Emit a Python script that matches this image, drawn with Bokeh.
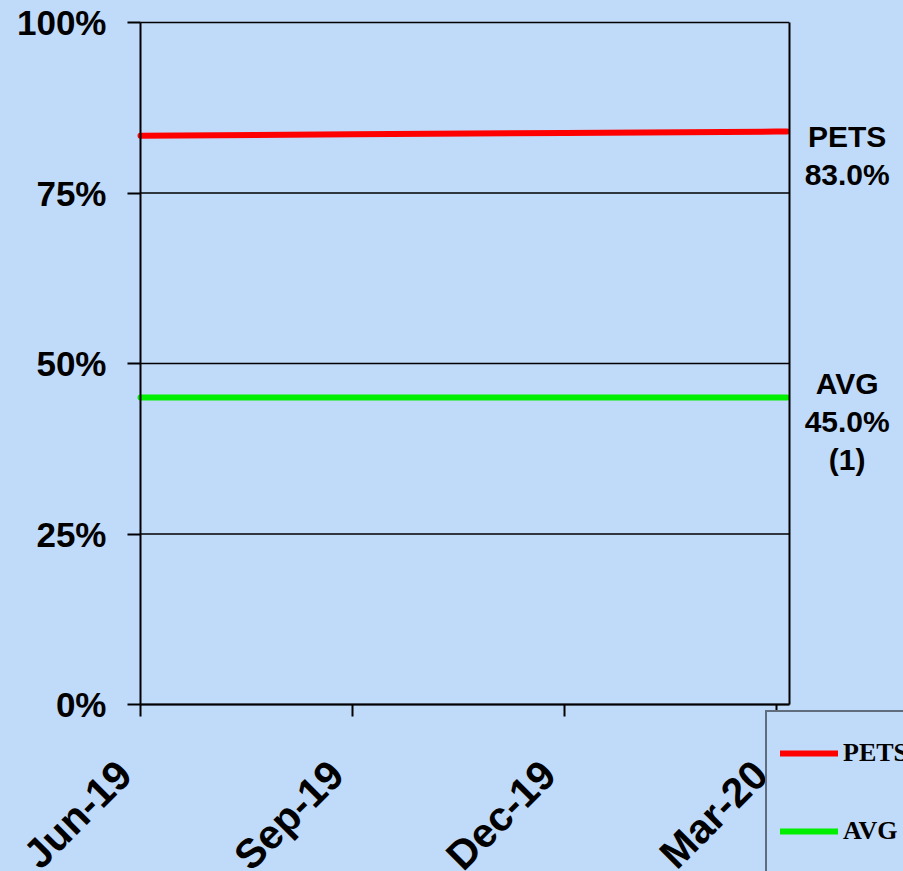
import math
from bokeh.plotting import figure
from bokeh.models import Range1d, FixedTicker, Legend, LegendItem, Label, LinearAxis
from bokeh.embed import file_html
from bokeh.resources import INLINE

# ---- data ----
tick_months = [0, 3, 6, 9]
tick_labels = ["Jun-19", "Sep-19", "Dec-19", "Mar-20"]
x_months = [0, 3, 6, 9, 9.15]
pets = [83.4, 83.6, 83.8, 84.0, 84.0]
avg = [45.0, 45.0, 45.0, 45.0, 45.0]
y_ticks = [0, 25, 50, 75, 100]
y_tick_labels = ["0%", "25%", "50%", "75%", "100%"]
pets_label = "PETS\n83.0%"
avg_label = "AVG\n45.0%\n(1)"
label_month = 10

# ---- layout constants ----
BG = "#C0DAF9"
X_EDGE = 9.18            # right edge of the plotting box (months)
W, H = 903, 871
X0_PX, Y100_PX = 140, 22  # pixel position of (Jun-19, 100%)
PX_MONTH = 212 / 3
PX_PCT = 6.82
PAD = "\u00a0\u00a0"      # shifts rotated tick labels down-left of their tick

x_range = Range1d(-X0_PX / PX_MONTH, (W - X0_PX) / PX_MONTH)
y_range = Range1d(100 - (H - Y100_PX) / PX_PCT, 100 + Y100_PX / PX_PCT)

p = figure(width=W, height=H, output_backend="svg", toolbar_location=None,
           x_range=x_range, y_range=y_range,
           min_border=0, min_border_left=0, min_border_right=0,
           min_border_top=0, min_border_bottom=0)
p.background_fill_color = BG
p.border_fill_color = BG
p.outline_line_color = None
p.grid.visible = False

# horizontal grid lines limited to the plotting box
p.segment(x0=[0] * len(y_ticks), x1=[X_EDGE] * len(y_ticks), y0=y_ticks, y1=y_ticks,
          line_color="black", line_width=1.5)

r1 = p.line(x_months, pets, line_color="#FF0000", line_width=6, line_cap="round")
r2 = p.line(x_months, avg, line_color="#00EE00", line_width=6, line_cap="round")

xa = p.xaxis[0]
ya = p.yaxis[0]
xa.fixed_location = 0
xa.bounds = (0, X_EDGE)
ya.fixed_location = 0
ya.bounds = (0, 100)

ya.ticker = FixedTicker(ticks=y_ticks)
ya.major_label_overrides = {t: l for t, l in zip(y_ticks, y_tick_labels)}
xa.ticker = FixedTicker(ticks=tick_months)
xa.major_label_overrides = {t: l + PAD for t, l in zip(tick_months, tick_labels)}
xa.major_label_orientation = math.pi / 4

for ax in (xa, ya):
    ax.axis_line_color = "black"
    ax.axis_line_width = 2
    ax.major_tick_line_color = "black"
    ax.major_tick_line_width = 2
    ax.major_tick_in = 0
    ax.minor_tick_line_color = None
    ax.major_label_text_font = "Liberation Sans"
    ax.major_label_text_font_style = "bold"
    ax.major_label_text_color = "black"
ya.major_tick_out = 13
xa.major_tick_out = 12
ya.major_label_text_font_size = "35px"
xa.major_label_text_font_size = "41px"
ya.major_label_standoff = 21
xa.major_label_standoff = 35

# right edge of the box
ra = LinearAxis(fixed_location=X_EDGE, bounds=(0, 100), ticker=FixedTicker(ticks=[]),
                major_tick_line_color=None, minor_tick_line_color=None,
                axis_line_color="black", axis_line_width=2)
p.add_layout(ra, "right")

for txt, val in ((pets_label, pets[-1]), (avg_label, avg[-1])):
    p.add_layout(Label(x=label_month, y=val, text=txt, text_align="center",
                       text_baseline="middle", y_offset=-24,
                       text_font="Liberation Sans", text_font_style="bold",
                       text_font_size="30px", text_color="black", text_line_height=1.15))

legend = Legend(items=[LegendItem(label="PETS", renderers=[r1]),
                       LegendItem(label="AVG", renderers=[r2])],
                location=(765, -3))
legend.padding = 13
legend.margin = 0
legend.label_height = 56
legend.glyph_height = 56
legend.glyph_width = 58
legend.spacing = 22
legend.label_standoff = 5
legend.label_text_font = "Liberation Serif"
legend.label_text_font_style = "bold"
legend.label_text_font_size = "26px"
legend.label_text_color = "black"
legend.border_line_color = "black"
legend.border_line_width = 2
legend.background_fill_color = BG
legend.background_fill_alpha = 1
p.add_layout(legend)

html = file_html(p, INLINE)
html = html.replace("</head>", "<style>html, body { background-color: %s; }</style>\n</head>" % BG, 1)
open("out.html", "w").write(html)
